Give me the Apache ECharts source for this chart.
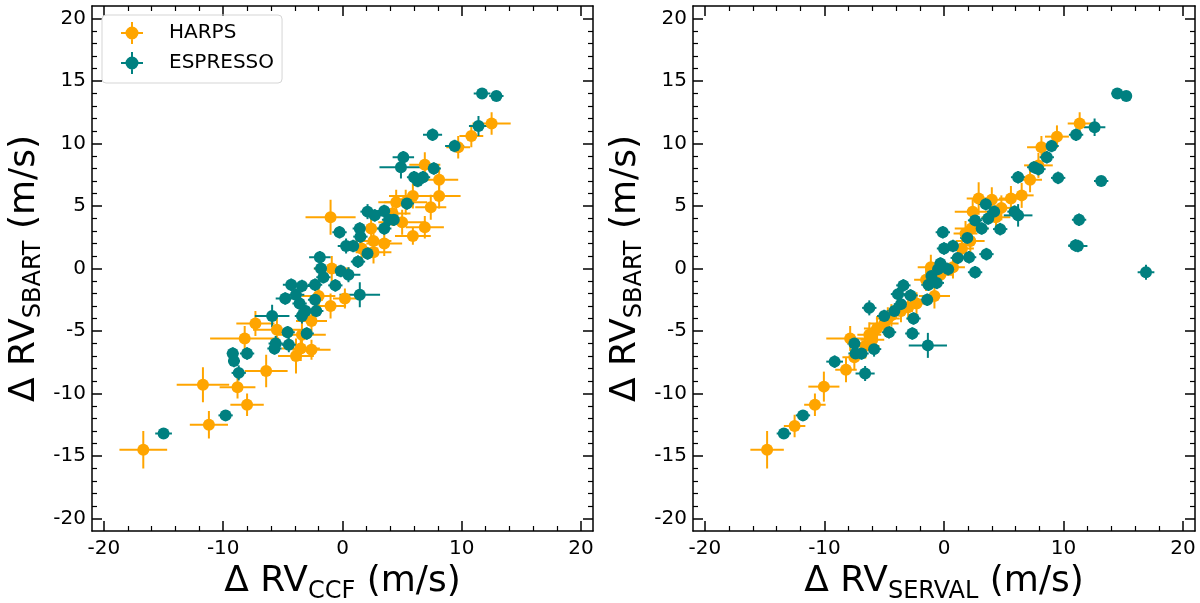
<!DOCTYPE html>
<html>
<head>
<meta charset="utf-8">
<title>SBART vs CCF / SERVAL</title>
<script src="https://cdn.jsdelivr.net/npm/echarts@6/dist/echarts.min.js"></script>
<style>
  html, body { margin: 0; padding: 0; background: #fff; }
  #chart { width: 1200px; height: 603px; }
</style>
</head>
<body>
<div id="chart"></div>
<script>
// each point: [x, y, xerr, yerr]  (m/s)
const harpsCcf = [
  [-16.7, -14.5, 2.0, 1.5], [-11.2, -12.5, 1.6, 1.1], [-11.7, -9.3, 2.2, 1.4],
  [-8.8, -9.5, 1.5, 0.9], [-8.0, -10.9, 1.4, 0.9], [-6.4, -8.2, 1.8, 1.3],
  [-8.2, -5.6, 2.9, 1.0], [-7.3, -4.4, 1.6, 1.0], [-5.5, -4.9, 2.0, 1.0],
  [-3.9, -7.0, 1.5, 1.4], [-3.5, -6.4, 1.6, 1.0], [-2.6, -6.5, 1.6, 0.8],
  [-2.6, -4.2, 1.3, 0.9], [-3.4, -5.3, 2.0, 1.0], [-1.0, -3.0, 1.3, 1.0],
  [0.2, -2.4, 1.0, 0.8], [-2.0, -2.2, 1.4, 0.9], [-1.0, 4.1, 2.1, 1.4],
  [-0.9, 0.0, 1.5, 1.0], [1.6, 1.6, 1.4, 1.0], [2.6, 2.2, 1.5, 0.9],
  [2.4, 3.2, 1.3, 1.0], [2.6, 1.3, 1.5, 0.9], [5.0, 3.7, 2.0, 1.0],
  [5.3, 5.3, 1.8, 1.0], [4.5, 5.3, 1.5, 1.0], [5.9, 5.8, 2.0, 1.0],
  [5.9, 2.6, 1.5, 0.7], [6.9, 3.3, 1.6, 0.9], [7.4, 4.9, 1.3, 1.0],
  [8.1, 5.8, 1.8, 1.0], [8.1, 7.1, 1.6, 1.0], [6.9, 8.3, 1.3, 1.0],
  [9.7, 9.7, 1.0, 0.9], [10.8, 10.6, 1.0, 0.9], [12.5, 11.6, 1.6, 0.9],
  [4.2, 4.4, 1.5, 1.0], [3.5, 2.0, 1.5, 1.0]
];

const espressoCcf = [
  [-15.0, -13.2, 0.7, 0.4], [-9.8, -11.75, 0.6, 0.4], [-9.2, -6.8, 0.5, 0.5],
  [-9.1, -7.4, 0.5, 0.5], [-8.7, -8.35, 0.6, 0.6], [-8.0, -6.8, 0.6, 0.5],
  [-5.9, -3.8, 1.45, 0.9], [-5.6, -6.0, 0.6, 0.6], [-5.7, -6.4, 0.6, 0.5],
  [-4.6, -5.1, 0.6, 0.5], [-4.5, -6.1, 0.6, 0.6], [-4.8, -2.4, 0.8, 0.5],
  [-4.3, -1.3, 0.7, 0.5], [-3.9, -2.1, 0.7, 0.5], [-3.6, -2.8, 0.6, 0.5],
  [-3.4, -1.4, 1.0, 0.5], [-3.4, -3.8, 0.6, 0.6], [-3.1, -3.4, 0.6, 0.5],
  [-3.0, -5.2, 0.6, 0.5], [-2.3, -1.3, 0.6, 0.5], [-2.2, -3.4, 0.6, 0.5],
  [-2.3, -2.5, 0.6, 0.5], [-1.9, 0.9, 0.9, 0.5], [-1.8, 0.0, 0.6, 0.5],
  [-1.6, -0.7, 0.6, 0.5], [-0.6, -1.35, 0.6, 0.5], [-0.25, 2.9, 0.6, 0.5],
  [-0.15, -0.2, 0.6, 0.5], [0.5, -0.5, 1.0, 0.6], [0.3, 1.8, 0.7, 0.6],
  [0.9, 1.8, 0.6, 0.5], [1.45, -2.1, 1.7, 1.0], [1.45, 3.2, 0.6, 0.5],
  [1.5, 2.55, 0.6, 0.5], [1.3, 0.55, 0.6, 0.5], [2.1, 1.2, 0.6, 0.5],
  [2.1, 4.55, 0.6, 0.6], [2.7, 4.25, 0.7, 0.5], [3.5, 4.6, 0.6, 0.5],
  [3.5, 3.2, 0.6, 0.5], [3.9, 3.9, 0.6, 0.5], [4.3, 3.9, 0.6, 0.5],
  [4.9, 8.1, 1.8, 0.9], [5.1, 8.9, 0.9, 0.5], [5.4, 5.2, 0.6, 0.5],
  [6.0, 7.3, 0.6, 0.5], [6.3, 7.0, 0.6, 0.5], [6.75, 7.3, 0.6, 0.5],
  [7.65, 8.0, 0.6, 0.5], [7.55, 10.7, 0.8, 0.5], [9.4, 9.8, 0.8, 0.5],
  [11.4, 11.4, 0.8, 0.8], [11.7, 14.0, 0.7, 0.3], [12.9, 13.8, 0.6, 0.3]
];

const harpsServal = [
  [-14.8, -14.5, 1.4, 1.5], [-12.5, -12.6, 0.9, 0.9], [-10.8, -10.9, 0.9, 0.9],
  [-10.05, -9.45, 1.3, 1.2], [-8.2, -8.1, 0.9, 1.0], [-7.85, -5.6, 2.0, 1.0],
  [-7.5, -7.1, 1.0, 1.0], [-6.6, -6.2, 1.2, 1.0], [-6.25, -5.3, 1.0, 1.0],
  [-5.6, -4.8, 1.1, 1.0], [-5.0, -4.4, 1.2, 0.9], [-4.4, -3.75, 1.0, 0.9],
  [-3.0, -3.1, 1.0, 1.0], [-2.3, -2.8, 1.0, 0.9], [-0.8, -2.2, 1.3, 1.0],
  [-1.1, 0.1, 1.1, 1.0], [0.75, 0.1, 1.0, 0.9], [1.5, 1.6, 1.0, 1.0],
  [2.2, 2.2, 1.2, 0.9], [2.3, 3.2, 1.4, 1.0], [2.4, 4.55, 1.5, 1.0],
  [2.9, 5.6, 1.0, 1.3], [4.35, 4.1, 1.2, 1.0], [4.8, 4.85, 1.2, 1.0],
  [5.6, 5.6, 1.0, 1.0], [6.5, 5.85, 1.0, 1.0], [7.2, 7.1, 1.0, 1.0],
  [8.15, 9.7, 1.2, 0.9], [9.45, 10.55, 1.0, 0.9], [11.35, 11.6, 1.0, 0.9],
  [7.9, 8.25, 1.2, 1.0], [4.0, 5.5, 1.2, 1.0], [-6.0, -5.7, 1.0, 1.0],
  [-4.7, -4.0, 1.0, 0.9], [-3.6, -3.4, 1.0, 0.9], [-1.5, -0.9, 1.0, 0.9],
  [1.8, 2.8, 1.0, 1.0], [-0.3, -0.5, 1.0, 0.9]
];

const espressoServal = [
  [-13.4, -13.2, 0.6, 0.4], [-11.8, -11.75, 0.6, 0.4], [-9.15, -7.45, 0.7, 0.5],
  [-7.5, -6.0, 0.6, 0.5], [-7.4, -6.8, 0.6, 0.5], [-6.9, -6.8, 0.6, 0.5],
  [-6.25, -3.15, 0.6, 0.6], [-6.6, -8.4, 0.8, 0.6], [-5.85, -6.45, 0.6, 0.6],
  [-5.0, -3.8, 0.6, 0.5], [-4.6, -5.1, 0.6, 0.5], [-4.15, -3.4, 0.6, 0.5],
  [-3.85, -2.05, 0.6, 0.5], [-3.6, -2.85, 0.6, 0.5], [-3.4, -1.35, 0.6, 0.5],
  [-2.8, -2.15, 0.6, 0.5], [-2.55, -4.0, 0.6, 0.5], [-2.65, -5.2, 0.6, 0.5],
  [-1.35, -6.15, 1.6, 1.0], [-1.4, -2.5, 0.6, 0.5], [-1.3, -1.3, 0.6, 0.5],
  [-1.05, -0.6, 0.6, 0.5], [-0.6, -1.15, 0.6, 0.5], [-0.5, -0.05, 0.6, 0.5],
  [-0.3, 0.4, 0.6, 0.5], [-0.1, 2.9, 0.6, 0.5], [0.0, 1.6, 0.6, 0.5],
  [0.35, -0.05, 0.6, 0.5], [0.75, 1.8, 0.6, 0.5], [1.15, 0.85, 0.6, 0.5],
  [1.95, 2.45, 0.6, 0.5], [2.1, 0.9, 0.6, 0.5], [2.6, -0.3, 0.6, 0.5],
  [2.6, 3.85, 0.6, 0.5], [3.15, 3.2, 0.6, 0.5], [3.5, 5.15, 0.6, 0.5],
  [3.55, 1.15, 0.6, 0.5], [3.7, 4.0, 0.6, 0.5], [4.2, 4.55, 0.6, 0.5],
  [4.7, 3.15, 0.6, 0.5], [5.9, 4.55, 0.6, 0.5], [6.2, 4.25, 1.2, 0.9],
  [6.2, 7.3, 0.6, 0.5], [7.55, 8.1, 0.6, 0.5], [7.9, 7.95, 0.6, 0.5],
  [8.6, 8.9, 0.6, 0.5], [9.0, 9.8, 0.6, 0.5], [9.55, 7.25, 0.6, 0.5],
  [11.05, 10.7, 0.6, 0.5], [12.6, 11.3, 0.9, 0.7], [13.15, 7.0, 0.6, 0.4],
  [11.3, 3.9, 0.6, 0.5], [11.0, 1.85, 0.6, 0.5], [11.2, 1.8, 0.8, 0.5],
  [14.5, 14.0, 0.5, 0.3], [15.25, 13.8, 0.4, 0.3], [16.9, -0.3, 0.7, 0.6]
];

// ticks
const majorX = [-20, -10, 0, 10, 20];
const minorX = [-18, -16, -14, -12, -8, -6, -4, -2, 2, 4, 6, 8, 12, 14, 16, 18];
const majorY = [-20, -15, -10, -5, 0, 5, 10, 15, 20];
const minorY = [-19, -18, -17, -16, -14, -13, -12, -11, -9, -8, -7, -6, -4, -3, -2, -1,
                1, 2, 3, 4, 6, 7, 8, 9, 11, 12, 13, 14, 16, 17, 18, 19];
const axisMin = -21;
const axisMax = 21;

const HARPS_COLOR = '#FFA500';
const ESPRESSO_COLOR = '#008080';
const FONT = 'DejaVu Sans';

const nameRich = {
  m: { fontSize: 36, fontFamily: FONT, color: '#000', lineHeight: 36, padding: [0, 0, 7, 0] },
  s: { fontSize: 24, fontFamily: FONT, color: '#000', lineHeight: 24, verticalAlign: 'bottom' }
};

function sideAxes(gridIndex, pos, ticksMajor, ticksMinor, name, nameGap) {
  const isMain = pos === 'bottom' || pos === 'left';
  const base = {
    gridIndex: gridIndex,
    type: 'value',
    min: axisMin,
    max: axisMax,
    position: pos,
    splitLine: { show: false }
  };
  const major = Object.assign({}, base, {
    axisLine: { show: true, onZero: false, lineStyle: { color: '#000', width: 1.5 } },
    axisTick: { show: true, inside: true, length: 10, customValues: ticksMajor,
                lineStyle: { color: '#000', width: 1.5 } },
    axisLabel: isMain
      ? { show: true, customValues: ticksMajor, fontSize: 20, fontFamily: FONT, color: '#000',
          margin: (pos === 'bottom') ? 8 : 6 }
      : { show: false }
  });
  if (isMain && name) {
    major.name = name;
    major.nameLocation = 'middle';
    major.nameGap = nameGap;
    major.nameTextStyle = { rich: nameRich };
    if (pos === 'left') major.nameRotate = 90;
  }
  const minor = Object.assign({}, base, {
    axisLine: { show: false, onZero: false },
    axisTick: { show: true, inside: true, length: 5, customValues: ticksMinor,
                lineStyle: { color: '#000', width: 1.2 } },
    axisLabel: { show: false }
  });
  return [major, minor];
}

const grids = [
  { left: 92, top: 6, width: 501, height: 525, outerBoundsMode: 'none' },
  { left: 693, top: 6, width: 502, height: 525, outerBoundsMode: 'none' }
];

const xNames = ['{m|Δ RV}{s|CCF}{m| (m/s)}', '{m|Δ RV}{s|SERVAL}{m| (m/s)}'];
const yName = '{m|Δ RV}{s|SBART}{m| (m/s)}';

const xAxes = [];
const yAxes = [];
[0, 1].forEach(function (g) {
  xAxes.push.apply(xAxes, sideAxes(g, 'bottom', majorX, minorX, xNames[g], 30));
  xAxes.push.apply(xAxes, sideAxes(g, 'top', majorX, minorX));
  yAxes.push.apply(yAxes, sideAxes(g, 'left', majorY, minorY, yName, 44));
  yAxes.push.apply(yAxes, sideAxes(g, 'right', majorY, minorY));
});

function renderErr(params, api) {
  const x = api.value(0), y = api.value(1), ex = api.value(2), ey = api.value(3);
  const l = api.coord([x - ex, y]), r = api.coord([x + ex, y]);
  const t = api.coord([x, y + ey]), b = api.coord([x, y - ey]);
  const style = { stroke: api.visual('color'), lineWidth: 2 };
  return {
    type: 'group',
    children: [
      { type: 'line', shape: { x1: l[0], y1: l[1], x2: r[0], y2: r[1] }, style: style },
      { type: 'line', shape: { x1: t[0], y1: t[1], x2: b[0], y2: b[1] }, style: style }
    ]
  };
}

function errSeries(name, color, data, axisIdx) {
  return [
    {
      name: name, type: 'custom', xAxisIndex: axisIdx, yAxisIndex: axisIdx,
      itemStyle: { color: color }, renderItem: renderErr,
      encode: { x: 0, y: 1 }, data: data, silent: true
    },
    {
      name: name, type: 'scatter', xAxisIndex: axisIdx, yAxisIndex: axisIdx,
      symbol: 'circle', symbolSize: 12, itemStyle: { color: color, opacity: 1 },
      data: data.map(function (d) { return [d[0], d[1]]; }), silent: true
    }
  ];
}

// circle drawn clockwise like the bars so the fill has no holes
const crossIcon = 'path://M0,10h22v2h-22z M10,0h2v22h-2z M11,4.5a6.5,6.5 0 1,1 -0.001,0z';

const series = [].concat(
  errSeries('HARPS', HARPS_COLOR, harpsCcf, 0),
  errSeries('ESPRESSO', ESPRESSO_COLOR, espressoCcf, 0),
  errSeries('HARPS', HARPS_COLOR, harpsServal, 4),
  errSeries('ESPRESSO', ESPRESSO_COLOR, espressoServal, 4)
);

const chart = echarts.init(document.getElementById('chart'), null, { renderer: 'canvas' });
chart.setOption({
  animation: false,
  backgroundColor: '#fff',
  textStyle: { fontFamily: FONT },
  grid: grids,
  xAxis: xAxes,
  yAxis: yAxes,
  legend: {
    orient: 'vertical',
    left: 102,
    top: 15,
    data: [
      { name: 'HARPS', icon: crossIcon },
      { name: 'ESPRESSO', icon: crossIcon }
    ],
    itemWidth: 22,
    itemHeight: 22,
    itemGap: 8,
    padding: [7, 8, 9, 19],
    borderColor: '#d5d5d5',
    borderWidth: 1,
    borderRadius: 4,
    selectedMode: false,
    textStyle: { fontSize: 20, fontFamily: FONT, color: '#000', padding: [0, 0, 0, 21] }
  },
  series: series
});
</script>
</body>
</html>
